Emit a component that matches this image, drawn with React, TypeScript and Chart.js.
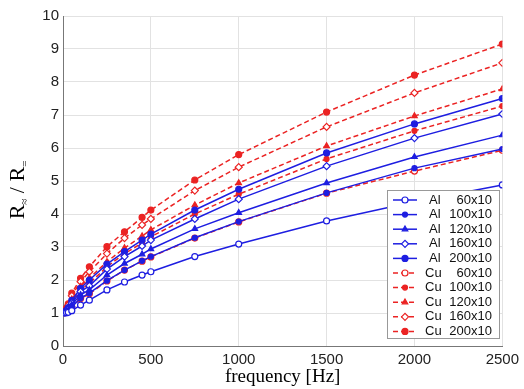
import React, { useEffect, useRef } from "react";
import { Chart, registerables } from "chart.js";
import { drawPoint } from "chart.js/helpers";

Chart.register(...registerables);

const frequencies = [10, 20, 30, 50, 100, 150, 250, 350, 450, 500, 750, 1000, 1500, 2000, 2500];

const al60 = [1.0, 1.01, 1.02, 1.07, 1.24, 1.39, 1.7, 1.94, 2.15, 2.25, 2.71, 3.09, 3.79, 4.37, 4.88];
const al100 = [1.01, 1.03, 1.06, 1.18, 1.45, 1.6, 1.98, 2.3, 2.58, 2.71, 3.28, 3.77, 4.64, 5.39, 5.97];
const al120 = [1.01, 1.04, 1.09, 1.25, 1.55, 1.7, 2.15, 2.5, 2.78, 2.94, 3.55, 4.04, 4.94, 5.73, 6.39];
const al160 = [1.02, 1.06, 1.12, 1.3, 1.65, 1.82, 2.33, 2.71, 3.03, 3.21, 3.85, 4.45, 5.45, 6.3, 7.03];
const al200 = [1.03, 1.08, 1.16, 1.38, 1.75, 2.0, 2.48, 2.86, 3.21, 3.39, 4.12, 4.75, 5.85, 6.73, 7.5];
const cu60 = [1.01, 1.03, 1.06, 1.17, 1.44, 1.58, 1.97, 2.3, 2.57, 2.7, 3.27, 3.76, 4.63, 5.3, 5.93];
const cu100 = [1.02, 1.07, 1.14, 1.35, 1.7, 1.9, 2.4, 2.8, 3.12, 3.31, 4.0, 4.6, 5.67, 6.52, 7.27];
const cu120 = [1.03, 1.09, 1.18, 1.42, 1.8, 2.06, 2.55, 2.97, 3.33, 3.52, 4.27, 4.94, 6.06, 6.97, 7.79];
const cu160 = [1.04, 1.12, 1.24, 1.52, 1.95, 2.25, 2.8, 3.27, 3.67, 3.85, 4.71, 5.42, 6.64, 7.67, 8.58];
const cu200 = [1.05, 1.15, 1.28, 1.6, 2.05, 2.4, 3.01, 3.46, 3.9, 4.12, 5.03, 5.8, 7.09, 8.21, 9.15];

const seriesLabels = [
  "Al 60x10", "Al 100x10", "Al 120x10", "Al 160x10", "Al 200x10",
  "Cu 60x10", "Cu 100x10", "Cu 120x10", "Cu 160x10", "Cu 200x10",
];
const seriesValues = [al60, al100, al120, al160, al200, cu60, cu100, cu120, cu160, cu200];

const xTickValues = [0, 500, 1000, 1500, 2000, 2500];
const yTickValues = [0, 1, 2, 3, 4, 5, 6, 7, 8, 9, 10];

const BLUE = "rgb(30,30,225)";
const RED = "rgb(235,35,35)";

const markerStyles = [
  { style: "circle", r: 3, filled: false },
  { style: "circle", r: 2.5, filled: true },
  { style: "triangle", r: 3.2, filled: true },
  { style: "rectRot", r: 3.5, filled: false },
  { style: "circle", r: 3, filled: true },
];

const legendPlugin = {
  id: "insideLegend",
  afterDraw(chart: any) {
    const ctx = chart.ctx;
    const x0 = 387, y0 = 190, w = 112, h = 148;
    ctx.save();
    ctx.fillStyle = "#fff";
    ctx.fillRect(x0, y0, w, h);
    ctx.strokeStyle = "#999";
    ctx.lineWidth = 1;
    ctx.strokeRect(x0 + 0.5, y0 + 0.5, w, h);
    chart.data.datasets.forEach((ds: any, i: number) => {
      const cy = y0 + 10 + i * 14.6;
      ctx.strokeStyle = ds.borderColor;
      ctx.lineWidth = 1.5;
      ctx.setLineDash(ds.borderDash || []);
      ctx.beginPath();
      ctx.moveTo(x0 + 6, cy);
      ctx.lineTo(x0 + 30, cy);
      ctx.stroke();
      ctx.setLineDash([]);
      ctx.fillStyle = ds.pointBackgroundColor;
      ctx.strokeStyle = ds.borderColor;
      ctx.lineWidth = 1.2;
      drawPoint(ctx, { pointStyle: ds.pointStyle, radius: ds.pointRadius, rotation: 0, borderWidth: 1.2 }, x0 + 18, cy);
      const parts = ds.label.split(" ");
      ctx.fillStyle = "#111";
      ctx.font = "13px 'Liberation Sans', Arial, sans-serif";
      ctx.textBaseline = "middle";
      ctx.textAlign = "left";
      ctx.fillText(parts[0], x0 + (parts[0] === "Cu" ? 38 : 42), cy);
      ctx.textAlign = "right";
      ctx.fillText(parts[1], x0 + 105, cy);
    });
    ctx.restore();
  },
};

const yTitlePlugin = {
  id: "yTitle",
  afterDraw(chart: any) {
    const ctx = chart.ctx;
    ctx.save();
    ctx.translate(17, 190);
    ctx.rotate(-Math.PI / 2);
    ctx.fillStyle = "#000";
    ctx.textBaseline = "alphabetic";
    ctx.textAlign = "left";
    const big = "22px 'Liberation Serif', 'Times New Roman', serif";
    const small = "11px 'Liberation Serif', 'Times New Roman', serif";
    const pieces = [
      { t: "R", f: big, dy: 0 },
      { t: "≈", f: small, dy: 4 },
      { t: " / ", f: big, dy: 0 },
      { t: "R", f: big, dy: 0 },
      { t: "=", f: small, dy: 4 },
    ];
    let total = 0;
    pieces.forEach((p) => { ctx.font = p.f; total += ctx.measureText(p.t).width; });
    let x = -total / 2;
    pieces.forEach((p) => {
      ctx.font = p.f;
      ctx.fillText(p.t, x, 7 + p.dy);
      x += ctx.measureText(p.t).width;
    });
    ctx.restore();
  },
};

export default function App() {
  const canvasRef = useRef<HTMLCanvasElement | null>(null);

  useEffect(() => {
    if (!canvasRef.current) return;
    const datasets = seriesValues.map((vals, i) => {
      const isCu = i >= 5;
      const color = isCu ? RED : BLUE;
      const m = markerStyles[i % 5];
      return {
        label: seriesLabels[i],
        data: frequencies.map((f, j) => ({ x: f, y: vals[j] })),
        borderColor: color,
        backgroundColor: color,
        borderWidth: 1.5,
        borderDash: isCu ? [5, 3] : [],
        pointStyle: m.style,
        pointRadius: m.r,
        pointBorderWidth: 1.2,
        pointBorderColor: color,
        pointBackgroundColor: m.filled ? color : "#fff",
        tension: 0,
      };
    });
    const chart = new Chart(canvasRef.current, {
      type: "line",
      data: { datasets },
      options: {
        animation: false,
        responsive: true,
        maintainAspectRatio: false,
        layout: { padding: { top: 16, right: 18, left: 0, bottom: 0 } },
        plugins: { legend: { display: false }, tooltip: { enabled: false } },
        scales: {
          x: {
            type: "linear",
            min: 0,
            max: 2500,
            afterBuildTicks: (s: any) => { s.ticks = xTickValues.map((v) => ({ value: v })); },
            afterFit: (s: any) => { s.height = 43; },
            ticks: {
              padding: 5,
              color: "#222",
              callback: (v: any) => String(v),
              font: { family: "'Liberation Sans', Arial, sans-serif", size: 15 },
            },
            grid: { color: "#e2e2e2", drawTicks: false },
            border: { color: "#777" },
            title: {
              display: true,
              text: "frequency [Hz]",
              color: "#000",
              padding: { top: 0, bottom: 1 },
              font: { family: "'Liberation Serif', 'Times New Roman', serif", size: 19 },
            },
          },
          y: {
            type: "linear",
            min: 0,
            max: 10,
            afterBuildTicks: (s: any) => { s.ticks = yTickValues.map((v) => ({ value: v })); },
            afterFit: (s: any) => { s.width = 63; },
            ticks: {
              padding: 4,
              color: "#222",
              callback: (v: any) => String(v),
              font: { family: "'Liberation Sans', Arial, sans-serif", size: 15 },
            },
            grid: { color: "#e2e2e2", drawTicks: false },
            border: { color: "#777" },
          },
        },
      },
      plugins: [legendPlugin, yTitlePlugin],
    } as any);
    return () => chart.destroy();
  }, []);

  return (
    <div style={{ position: "absolute", left: 0, top: 0, width: 524, height: 389, background: "#fff" }}>
      <canvas ref={canvasRef} />
    </div>
  );
}
